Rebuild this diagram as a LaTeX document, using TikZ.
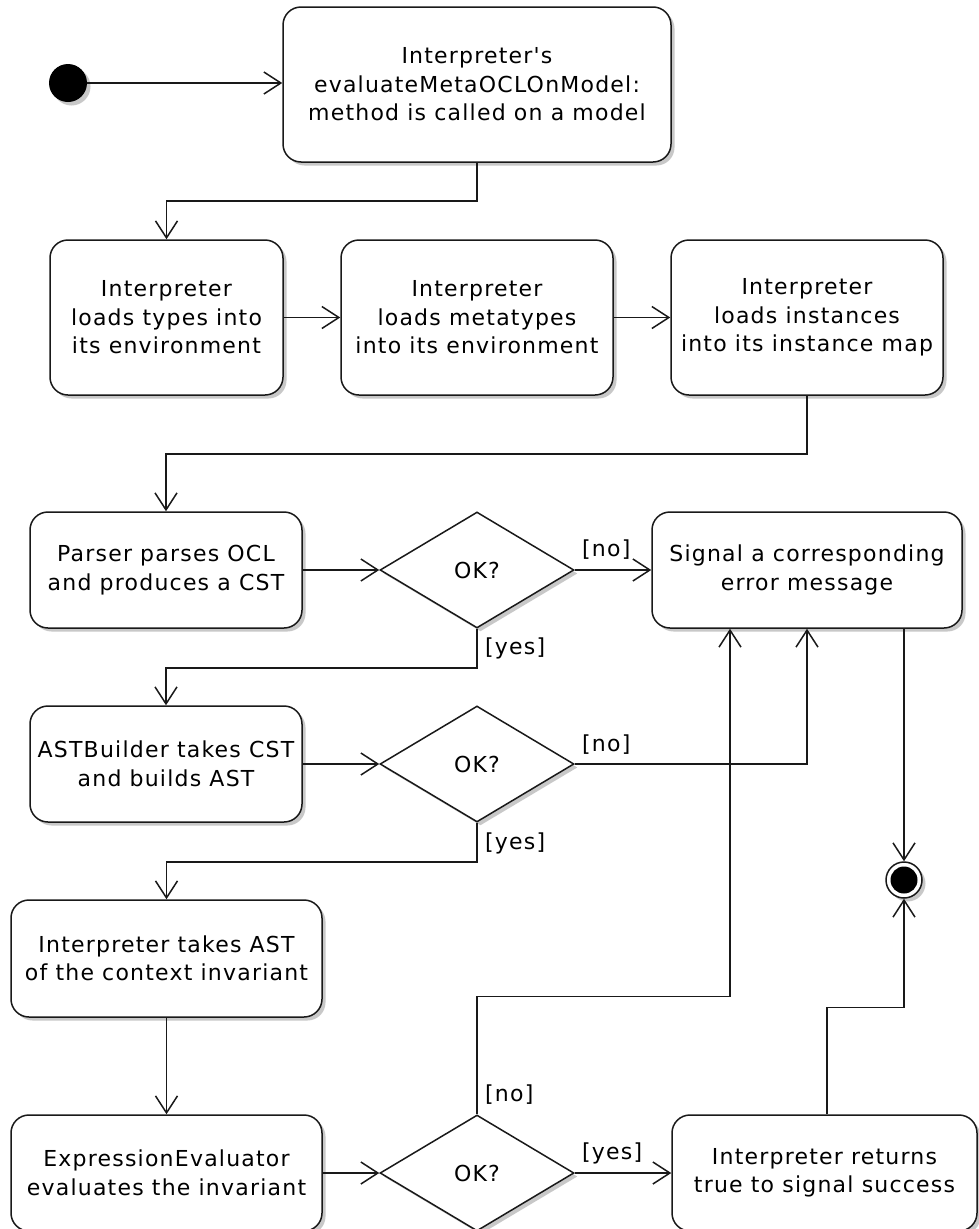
\documentclass[tikz,border=0pt]{standalone}
\usepackage{fontspec}
\newfontfamily\umlfont{DejaVu Sans}[Ligatures=TeXOff,LetterSpace=5.5]
\usetikzlibrary{arrows.meta,shapes.geometric,shadows}
\begin{document}
\begin{tikzpicture}[x=1pt,y=-1pt,
  font=\umlfont\fontsize{22}{28.5}\selectfont,
  shd/.style={drop shadow={shadow xshift=3.5pt,shadow yshift=-3.5pt,fill=black!30,opacity=0.7}},
  act/.style={draw=black!90,line width=1.5pt,rounded corners=18pt,fill=white,shd,align=center,inner sep=0pt},
  dec/.style={diamond,draw=black!90,line width=1.5pt,fill=white,shd,minimum width=194pt,minimum height=116pt,inner sep=0pt},
  arr/.style={draw=black!90,line width=1.5pt,-{Straight Barb[length=17pt,width=22pt]}},
  lab/.style={anchor=west,inner sep=0pt}
]
\fill[white] (0,0) rectangle (979,1229);
\useasboundingbox (0,0) rectangle (979,1229);

% initial and final nodes
\node[circle,fill=black,minimum size=38pt,inner sep=0pt,shd] (start) at (68,83) {};
\node[circle,draw=black!90,line width=1.5pt,fill=white,minimum size=36pt,inner sep=0pt,shd] (fin) at (904,880) {};
\node[circle,fill=black,minimum size=27pt,inner sep=0pt] (fincore) at (fin) {};

% actions
\node[act,minimum width=388pt,minimum height=155pt] (top) at (477,84.5) {Interpreter's\\evaluateMetaOCLOnModel:\\method is called on a model};
\node[act,minimum width=233pt,minimum height=155pt] (A) at (166.5,317.5) {Interpreter\\loads types into\\its environment};
\node[act,minimum width=272pt,minimum height=155pt] (B) at (477,317.5) {Interpreter\\loads metatypes\\into its environment};
\node[act,minimum width=272pt,minimum height=155pt] (C) at (807,317.5) {Interpreter\\loads instances\\into its instance map};
\node[act,minimum width=272pt,minimum height=116pt] (parser) at (166,570) {Parser parses OCL\\and produces a CST};
\node[act,minimum width=310pt,minimum height=116pt] (signal) at (807,570) {Signal a corresponding\\error message};
\node[act,minimum width=272pt,minimum height=116pt] (ast) at (166,764) {ASTBuilder takes CST\\and builds AST};
\node[act,minimum width=311pt,minimum height=117pt] (interp) at (166.5,958.5) {Interpreter takes AST\\of the context invariant};
\node[act,minimum width=311pt,minimum height=116pt] (eval) at (166.5,1173) {ExpressionEvaluator\\evaluates the invariant};
\node[act,minimum width=305pt,minimum height=116pt] (returns) at (824.5,1173) {Interpreter returns\\true to signal success};

% decisions
\node[dec] (d1) at (477,570) {OK?};
\node[dec] (d2) at (477,764) {OK?};
\node[dec] (d3) at (477,1173) {OK?};

% connectors
\draw[arr] (start) -- (top.west |- start);
\draw[arr] (top.south) -- ++(0,38) -| (A.north);
\draw[arr] (A.east) -- (B.west);
\draw[arr] (B.east) -- (C.west);
\draw[arr] (C.south) -- ++(0,58) -| (parser.north);
\draw[arr] (parser.east) -- (d1.west);
\draw[arr] (d1.east) -- (signal.west);
\draw[arr] (d1.south) -- ++(0,39) -| (ast.north);
\draw[arr] (ast.east) -- (d2.west);
\draw[arr] (d2.east) -| (signal.south);
\draw[arr] (d2.south) -- ++(0,39) -| (interp.north);
\draw[arr] (interp.south) -- (eval.north);
\draw[arr] (eval.east) -- (d3.west);
\draw[arr] (d3.east) -- (returns.west);
\draw[arr] (d3.north) -- ++(0,-118) -| ([xshift=-77pt]signal.south);
\draw[arr] (signal.south -| fin) -- (fin.north);
\draw[arr] ([xshift=2.5pt]returns.north) -- ++(0,-107) -| (fin.south);

% guards
\node[lab] (g1) at (582,550) {[no]};
\node[lab] (g2) at (485,648) {[yes]};
\node[lab] (g3) at (582,745) {[no]};
\node[lab] (g4) at (485,843) {[yes]};
\node[lab] (g5) at (485,1095) {[no]};
\node[lab] (g6) at (582,1153) {[yes]};
\end{tikzpicture}
\end{document}
